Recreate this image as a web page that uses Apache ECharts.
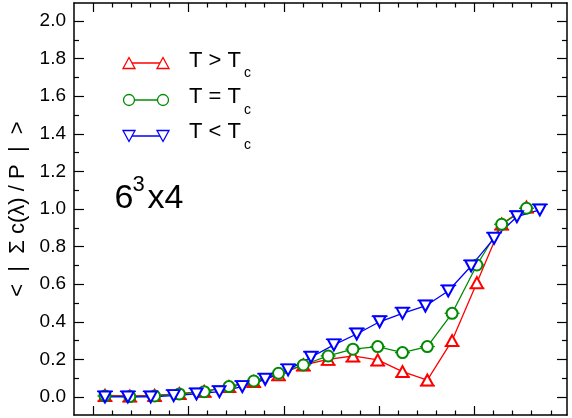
<!DOCTYPE html>
<html>
<head>
<meta charset="utf-8">
<script src="https://cdn.jsdelivr.net/npm/echarts@6/dist/echarts.min.js"></script>
<style>
  html, body { margin: 0; padding: 0; background: #fff; }
  #chart { width: 572px; height: 418px; }
</style>
</head>
<body>
<div id="chart"></div>
<script>
// x positions (one major tick = 1 unit, first major tick = 0)
var xAboveAt = [0.125, 0.385, 0.645, 0.905, 1.165, 1.425, 1.685, 1.945, 2.205, 2.465,
                2.725, 2.985, 3.245, 3.505, 3.765, 4.025, 4.285, 4.545];
var xBelow = [0.125, 0.365, 0.605, 0.845, 1.085, 1.325, 1.565, 1.805, 2.045, 2.285,
              2.525, 2.765, 3.005, 3.245, 3.485, 3.725, 3.965, 4.205, 4.445, 4.685];

// T > Tc
var yAbove = [0.008, 0.005, 0.008, 0.018, 0.03, 0.055, 0.082, 0.118, 0.17, 0.20,
              0.218, 0.197, 0.135, 0.09, 0.30, 0.608, 0.92, 1.01];
// T = Tc
var yAt = [0.005, 0.002, 0.005, 0.016, 0.028, 0.055, 0.085, 0.126, 0.17, 0.218,
           0.254, 0.268, 0.236, 0.268, 0.445, 0.702, 0.919, 1.004];
// T < Tc
var yBelow = [0.0, 0.0, 0.0, 0.007, 0.016, 0.028, 0.055, 0.094, 0.144, 0.211,
              0.277, 0.335, 0.40, 0.445, 0.484, 0.564, 0.697, 0.844, 0.959, 0.995];

var yMajor = [0, 0.2, 0.4, 0.6, 0.8, 1.0, 1.2, 1.4, 1.6, 1.8, 2.0];
var yMinor = [0.1, 0.3, 0.5, 0.7, 0.9, 1.1, 1.3, 1.5, 1.7, 1.9];
var xMajor = [0, 1, 2, 3, 4];
var xMinor = [0.2, 0.4, 0.6, 0.8, 1.2, 1.4, 1.6, 1.8, 2.2, 2.4, 2.6, 2.8,
              3.2, 3.4, 3.6, 3.8, 4.2, 4.4, 4.6, 4.8];

var RED = '#ff0000', GREEN = '#008c00', BLUE = '#0000ff';
var FONT = 'Liberation Sans, Arial, Helvetica, sans-serif';

var myChart = echarts.init(document.getElementById('chart'));

function pairs(xs, ys) {
  return xs.map(function (x, i) { return [x, ys[i]]; });
}

// one axis per side and tick length (major / minor)
function xAx(pos, ticks, len, withLine) {
  return {
    type: 'value', position: pos, min: -0.2, max: 4.97,
    axisLine: { show: withLine, onZero: false, lineStyle: { color: '#000', width: 1.5 } },
    axisTick: { show: true, inside: true, length: len, customValues: ticks,
                lineStyle: { color: '#000', width: 1.2 } },
    axisLabel: { show: false },
    splitLine: { show: false }
  };
}
function yAx(pos, ticks, len, withLine) {
  return {
    type: 'value', position: pos, min: -0.096, max: 2.096,
    axisLine: { show: withLine, onZero: false, lineStyle: { color: '#000', width: 1.5 } },
    axisTick: { show: true, inside: true, length: len, customValues: ticks,
                lineStyle: { color: '#000', width: 1.2 } },
    axisLabel: { show: false },
    splitLine: { show: false }
  };
}

var yLeft = yAx('left', yMajor, 10, true);
yLeft.axisLabel = {
  show: true, customValues: yMajor, margin: 8,
  color: '#000', fontSize: 19, fontFamily: FONT,
  formatter: function (v) { return v.toFixed(1); }
};
yLeft.name = '<  |  \u03a3 c(\u03bb) / P  |  >';
yLeft.nameLocation = 'middle';
yLeft.nameGap = 45;
yLeft.nameTextStyle = { color: '#000', fontSize: 22, fontFamily: FONT };

// little horizontal caps drawn on each point
function caps(xs, ys, color, dy, w) {
  return {
    type: 'custom', z: 1, silent: true, xAxisIndex: 0, yAxisIndex: 0,
    data: pairs(xs, ys),
    renderItem: function (params, api) {
      var p = api.coord([api.value(0), api.value(1)]);
      return {
        type: 'line',
        shape: { x1: p[0] - w / 2, y1: p[1] + dy, x2: p[0] + w / 2, y2: p[1] + dy },
        style: { stroke: color, lineWidth: 1.3 }
      };
    }
  };
}

function lineSeries(name, xs, ys, color, symbol, size, rotate) {
  return {
    name: name, type: 'line', z: 2, xAxisIndex: 0, yAxisIndex: 0,
    data: pairs(xs, ys),
    symbol: symbol, symbolSize: size, symbolRotate: rotate || 0,
    showSymbol: true,
    lineStyle: { color: color, width: 1.3 },
    itemStyle: { color: color, borderColor: color, borderWidth: 1.3 },
    emphasis: { disabled: true }
  };
}

// legend + label, drawn by hand
function tri(cx, cy, down, color) {
  var h = 5.5;
  var pts = down ? [[cx - 6, cy - h], [cx + 6, cy - h], [cx, cy + h]]
                 : [[cx, cy - h], [cx + 6, cy + h], [cx - 6, cy + h]];
  return { type: 'polygon', z: 10, shape: { points: pts },
           style: { fill: '#fff', stroke: color, lineWidth: 1.3 } };
}
function circ(cx, cy, color) {
  return { type: 'circle', z: 10, shape: { cx: cx, cy: cy, r: 5.5 },
           style: { fill: '#fff', stroke: color, lineWidth: 1.3 } };
}
function seg(y, color) {
  return { type: 'line', z: 9, shape: { x1: 129, y1: y, x2: 163, y2: y },
           style: { stroke: color, lineWidth: 1.3 } };
}
function txt(x, y, s, size) {
  return { type: 'text', z: 10, x: x, y: y,
           style: { text: s, fill: '#000', font: size + 'px ' + FONT,
                    textAlign: 'left', textVerticalAlign: 'middle' } };
}

var rows = [63, 100, 136];
var graphics = [
  seg(rows[0], RED), tri(129, rows[0], false, RED), tri(163, rows[0], false, RED),
  seg(rows[1], GREEN), circ(129, rows[1], GREEN), circ(163, rows[1], GREEN),
  seg(rows[2], BLUE), tri(129, rows[2], true, BLUE), tri(163, rows[2], true, BLUE),
  txt(189, 60.7, 'T > T', 22), txt(244, 73.5, 'c', 14),
  txt(189, 97.4, 'T = T', 22), txt(244, 110.2, 'c', 14),
  txt(189, 132.4, 'T < T', 22), txt(244, 145.2, 'c', 14),
  txt(114.5, 198.2, '6', 34), txt(132.5, 185.2, '3', 22), txt(147.5, 198.2, 'x4', 34)
];

var option = {
  animation: false,
  backgroundColor: '#fff',
  grid: { left: 74, right: 5, top: 3, bottom: 3, containLabel: false, outerBoundsMode: 'none' },
  xAxis: [
    xAx('bottom', xMajor, 9, true),
    xAx('bottom', xMinor, 4.5, false),
    xAx('top', xMajor, 9, true),
    xAx('top', xMinor, 4.5, false)
  ],
  yAxis: [
    yLeft,
    yAx('left', yMinor, 5, false),
    yAx('right', yMajor, 10, true),
    yAx('right', yMinor, 5, false)
  ],
  graphic: graphics,
  series: [
    caps(xAboveAt, yAbove, RED, 5.5, 15),
    caps(xAboveAt, yAt, GREEN, 0, 15),
    caps(xBelow, yBelow, BLUE, -5.5, 16),
    lineSeries('T > Tc', xAboveAt, yAbove, RED, 'emptyTriangle', [12, 11]),
    lineSeries('T = Tc', xAboveAt, yAt, GREEN, 'emptyCircle', 11),
    lineSeries('T < Tc', xBelow, yBelow, BLUE, 'emptyTriangle', [12, 11], 180)
  ]
};

myChart.setOption(option);
</script>
</body>
</html>
